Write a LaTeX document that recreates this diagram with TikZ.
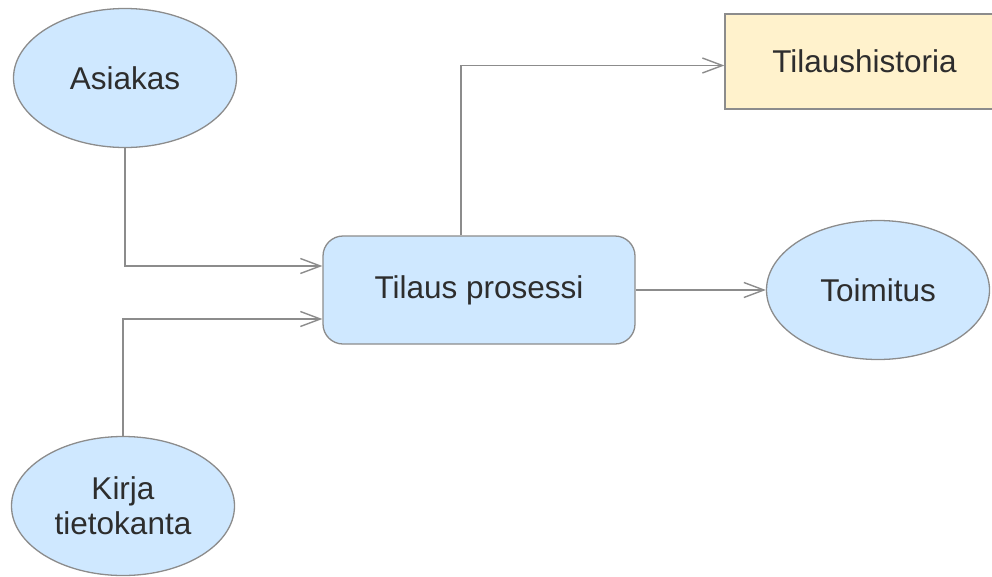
\documentclass[tikz,border=0pt]{standalone}
\usepackage{fontspec}
\setmainfont{Liberation Sans}
\usepackage{xcolor}
\usetikzlibrary{shapes.geometric,arrows.meta,positioning}
\definecolor{entityblue}{RGB}{207,232,255}
\definecolor{storeyellow}{RGB}{255,242,204}
\definecolor{linegray}{RGB}{140,140,140}
\definecolor{textgray}{RGB}{45,45,45}

\begin{document}
\begin{tikzpicture}[x=1pt,y=-1pt,
    every node/.style={text=textgray,font=\fontsize{31.5}{35}\selectfont,align=center,inner sep=0pt,line width=1.3pt},
    entity/.style={ellipse,draw=linegray,fill=entityblue,minimum width=223pt,minimum height=139pt},
    process/.style={rectangle,rounded corners=20pt,draw=linegray,fill=entityblue,minimum width=312pt,minimum height=108pt},
    store/.style={rectangle,draw=linegray,fill=storeyellow,minimum width=279pt,minimum height=95pt},
    flow/.style={draw=linegray,line width=1.4pt,-{Straight Barb[length=20pt,width=15pt]}}]
    \useasboundingbox (0,0) rectangle (992,576);

    % Nodes
    \node[entity] (asiakas) at (125,78) {Asiakas};
    \node[entity] (kirja) at (123,506) {Kirja\\tietokanta};
    \node[process] (tilaus) at (479,290) {Tilaus prosessi};
    \node[entity] (toimitus) at (878,290) {Toimitus};
    \node[store] (historia) at (864.5,61.5) {Tilaushistoria};

    % Flows
    \draw[flow] (asiakas.south) |- ([yshift=24pt]tilaus.west);
    \draw[flow] (kirja.north) |- ([yshift=-29pt]tilaus.west);
    \draw[flow] ([xshift=-18pt]tilaus.north) |- ([yshift=-4pt]historia.west);
    \draw[flow] (tilaus.east) -- (toimitus.west);
\end{tikzpicture}
\end{document}
